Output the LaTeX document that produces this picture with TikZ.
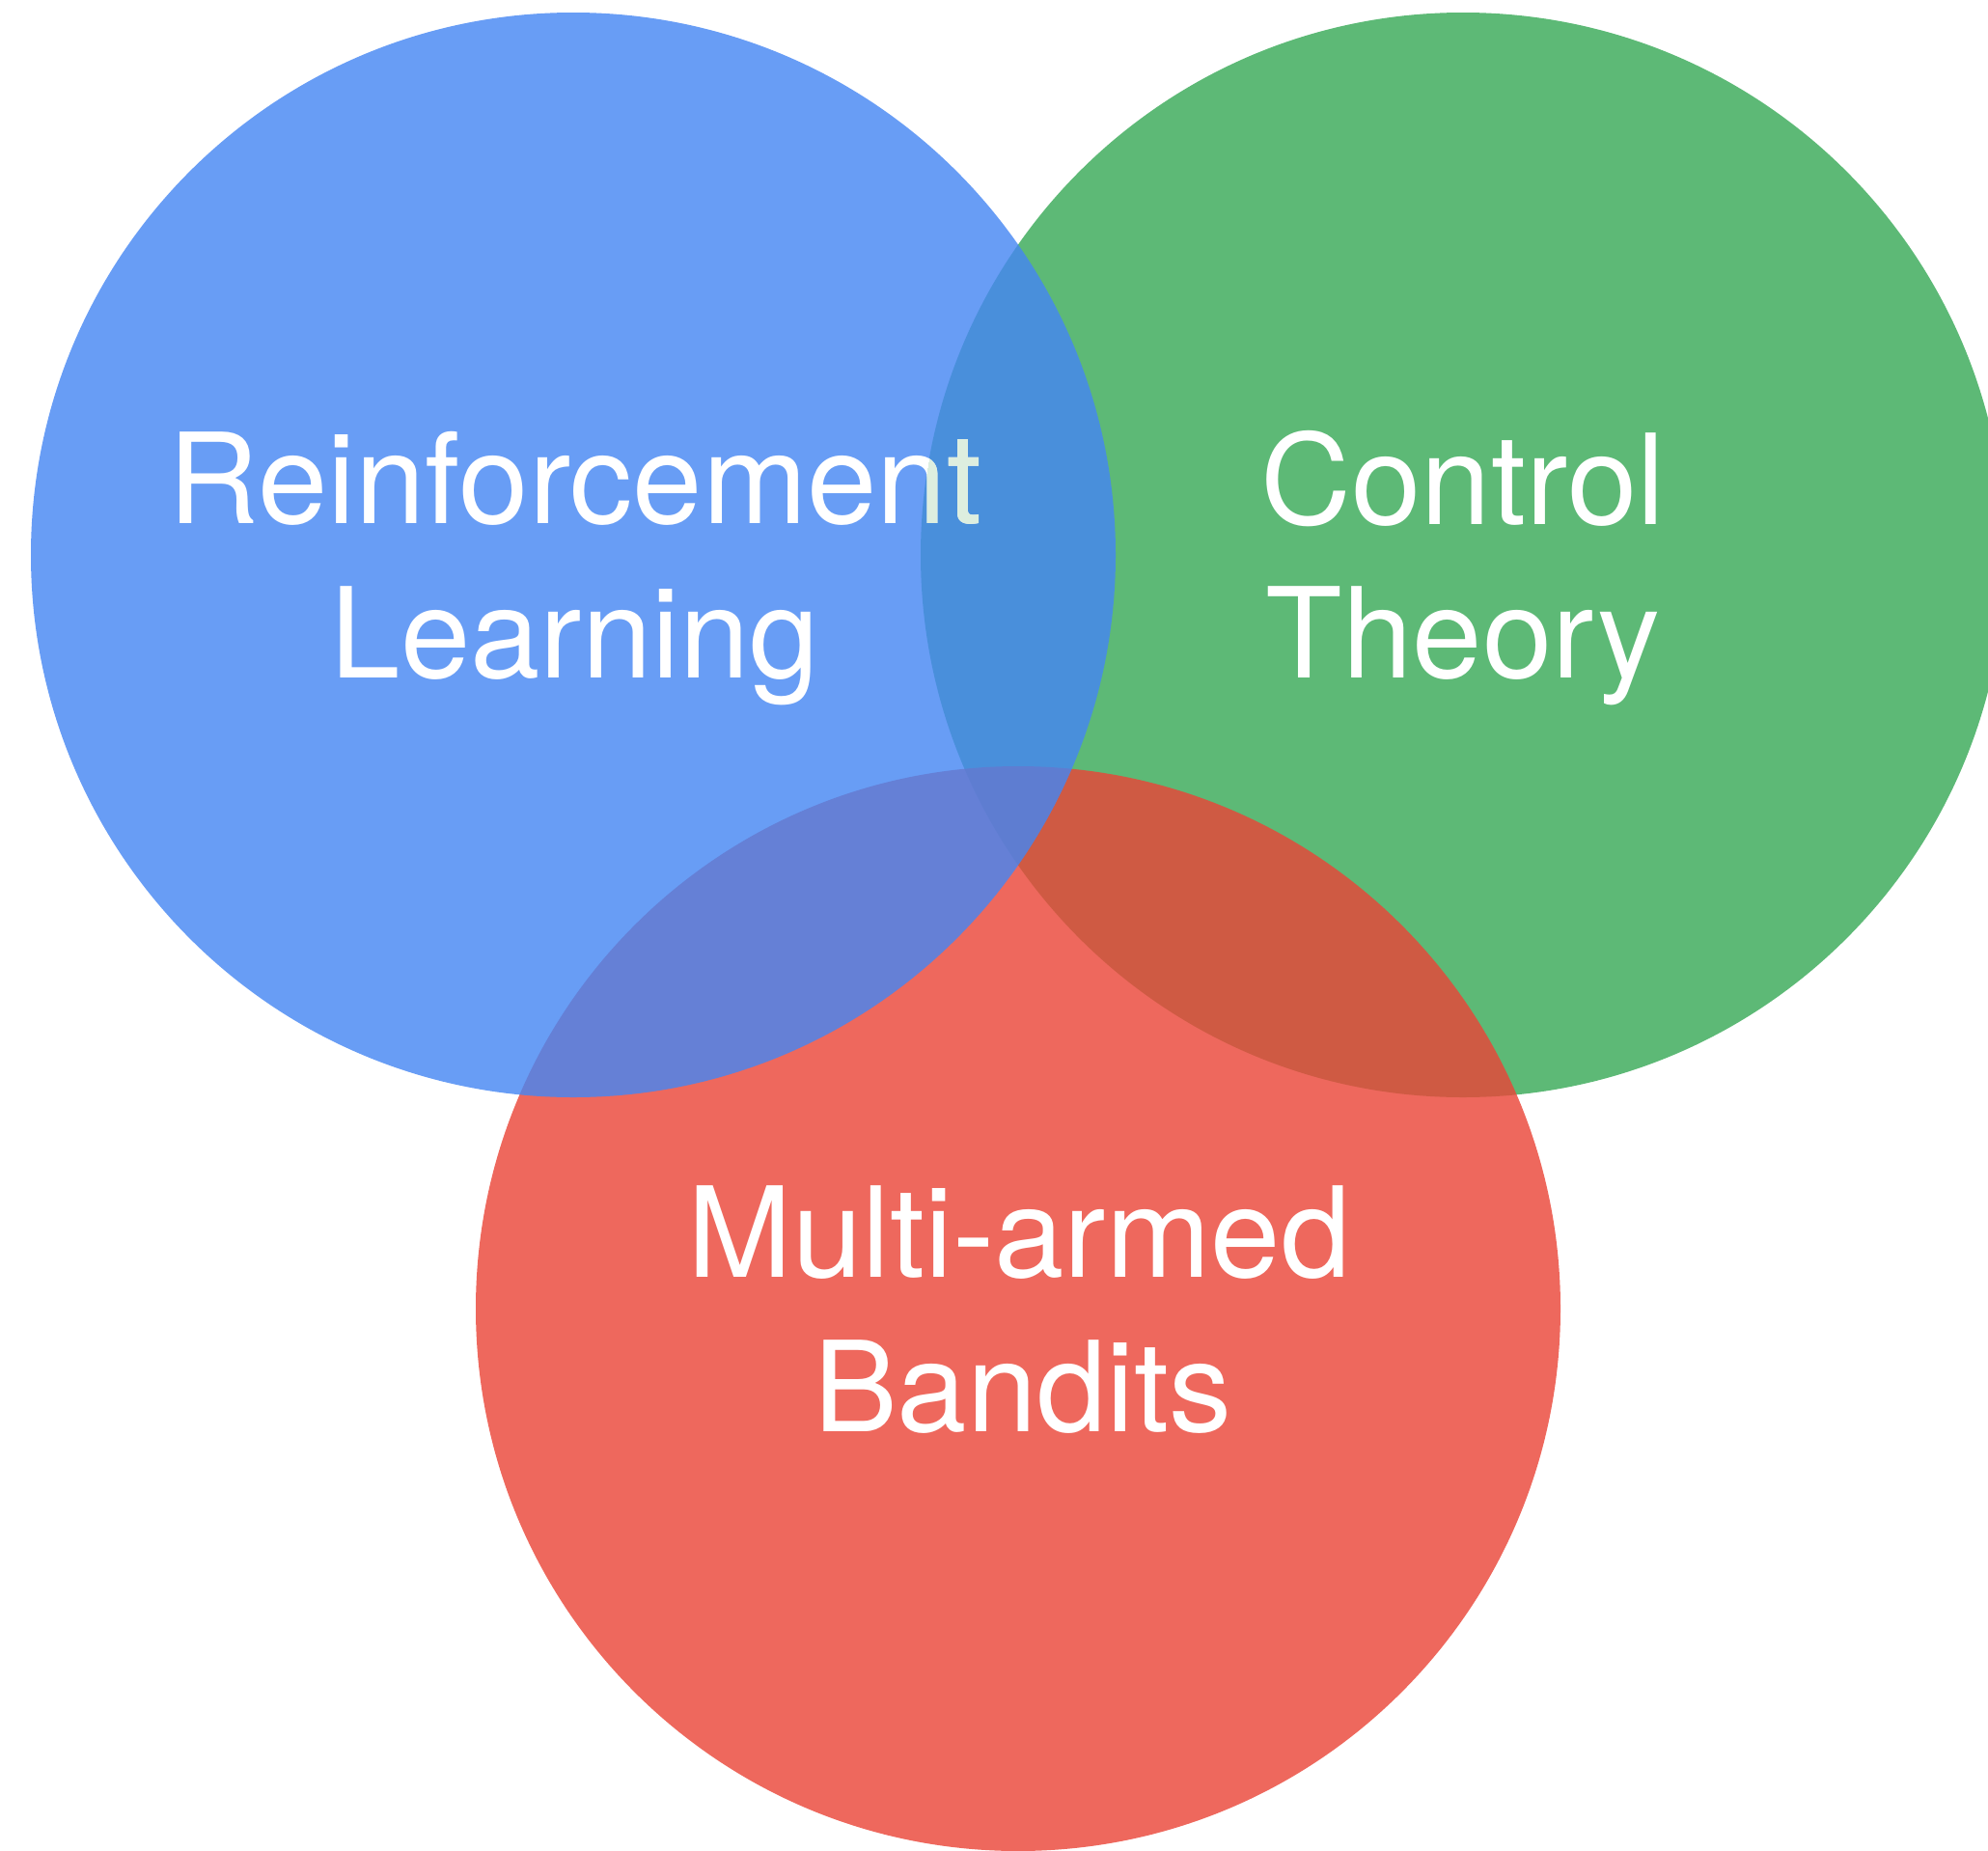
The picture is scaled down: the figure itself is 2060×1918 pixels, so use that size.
\documentclass[tikz,border=0pt]{standalone}
\usepackage{fontspec}
\setmainfont{TeX Gyre Heros}
\definecolor{rlblue}{RGB}{69,134,243}
\definecolor{ctgreen}{RGB}{55,169,86}
\definecolor{mabred}{RGB}{234,69,56}
\definecolor{paletint}{RGB}{221,238,223}
\begin{document}
\begin{tikzpicture}[x=0.01cm, y=-0.01cm,
  setdisc/.style={fill=#1, fill opacity=0.81, draw=none},
  setlabel/.style={anchor=base, inner sep=0pt, text=white,
    font=\fontsize{37}{45}\selectfont}]
  \useasboundingbox (0,0) rectangle (2060,1918);
  \clip (0,0) rectangle (2060,1918);

  % the three sets, drawn back to front
  \fill[setdisc=ctgreen] (1516,575) circle[radius=562];
  \fill[setdisc=mabred]  (1055,1356) circle[radius=562];
  \fill[setdisc=rlblue]  (594,575) circle[radius=562];

  % set names
  \node[setlabel] (rl1) at (596,542) {Reinforcement};
  \node[setlabel] (rl2) at (596,702) {Learning};
  \node[setlabel] (ct1) at (1516,543) {Control};
  \node[setlabel] (ct2) at (1516,702) {Theory};
  \node[setlabel] (mab1) at (1056,1323) {Multi-armed};
  \node[setlabel] (mab2) at (1060,1483) {Bandits};

  % lettering that runs into the control-theory disc takes a pale tint
  \begin{scope}
    \clip (1516,575) circle[radius=562];
    \node[setlabel, text=paletint] (rl1t) at (596,542) {Reinforcement};
  \end{scope}
\end{tikzpicture}
\end{document}
